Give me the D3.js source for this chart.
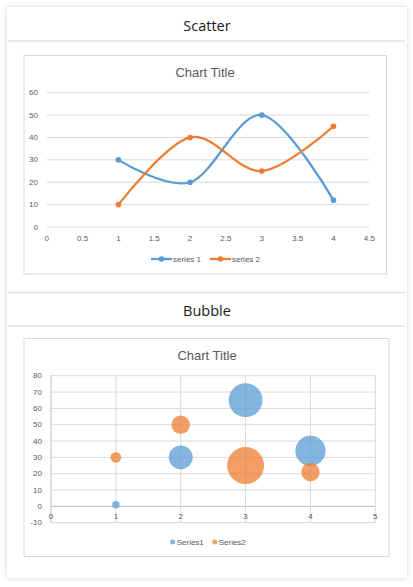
<!DOCTYPE html>
<html><head><meta charset="utf-8">
<script src="https://cdn.jsdelivr.net/npm/d3@7"></script>
<style>html,body{margin:0;padding:0;background:#fff;}svg{display:block;}</style>
</head><body>
<script>
// ---- data ----
const scatterX = [1, 2, 3, 4];
const scatterSeries1 = [30, 20, 50, 12];
const scatterSeries2 = [10, 40, 25, 45];
const scatterNames = ["series 1", "series 2"];
const scatterXTicks = [0, 0.5, 1, 1.5, 2, 2.5, 3, 3.5, 4, 4.5];
const scatterYTicks = [0, 10, 20, 30, 40, 50, 60];

const bubbleX = [1, 2, 3, 4];
const bubbleSeries1Y = [1, 30, 65, 34];
const bubbleSeries1Size = [0.5, 5, 10, 8];
const bubbleSeries2Y = [30, 50, 25, 21];
const bubbleSeries2Size = [1, 3, 12, 3];
const bubbleNames = ["Series1", "Series2"];
const bubbleXTicks = [0, 1, 2, 3, 4, 5];
const bubbleYTicks = [-10, 0, 10, 20, 30, 40, 50, 60, 70, 80];

const colors = ["#5B9BD5", "#ED7D31"];
const chartFont = "'Liberation Sans', Arial, sans-serif";
const headFont = "'Open Sans', 'Noto Sans', sans-serif";

const W = 413, H = 587;
const svg = d3.select("body").append("svg").attr("width", W).attr("height", H);
const defs = svg.append("defs");
const f = defs.append("filter").attr("id", "sh").attr("x", "-5%").attr("y", "-5%").attr("width", "110%").attr("height", "110%");
f.append("feDropShadow").attr("dx", 0).attr("dy", 0).attr("stdDeviation", 2.5).attr("flood-color", "#000").attr("flood-opacity", 0.18);

// card
svg.append("rect").attr("x", 7).attr("y", 7).attr("width", 400).attr("height", 571).attr("fill", "#fff").attr("filter", "url(#sh)");
// dividers
[41, 292.5, 326].forEach(y => svg.append("line").attr("x1", 8).attr("x2", 405).attr("y1", y).attr("y2", y).attr("stroke", "#e3e3e3").attr("stroke-width", 1.5));
svg.append("text").attr("x", 207).attr("y", 25).attr("text-anchor", "middle").attr("dominant-baseline", "central")
  .attr("font-family", headFont).attr("font-size", 14.5).attr("fill", "#1a1a1a").text("Scatter");
svg.append("text").attr("x", 207).attr("y", 310.5).attr("text-anchor", "middle").attr("dominant-baseline", "central")
  .attr("font-family", headFont).attr("font-size", 14.5).attr("fill", "#1a1a1a").text("Bubble");

// ---------- Scatter chart ----------
const g1 = svg.append("g");
g1.append("rect").attr("x", 24).attr("y", 55.5).attr("width", 362.5).attr("height", 218.5).attr("fill", "#fff").attr("stroke", "#d9d9d9");
g1.append("text").attr("x", 205).attr("y", 72).attr("text-anchor", "middle").attr("dominant-baseline", "central")
  .attr("font-family", chartFont).attr("font-size", 13).attr("fill", "#595959").text("Chart Title");

const sx = d3.scaleLinear().domain([0, 4.5]).range([46.7, 369.3]);
const sy = d3.scaleLinear().domain([0, 60]).range([227, 92.7]);

g1.append("g").selectAll("line").data(scatterYTicks).join("line")
  .attr("x1", sx(0)).attr("x2", sx(4.5)).attr("y1", d => sy(d)).attr("y2", d => sy(d))
  .attr("stroke", "#d9d9d9").attr("stroke-width", 1);

g1.append("g").selectAll("text").data(scatterYTicks).join("text")
  .attr("x", 38).attr("y", d => sy(d)).attr("text-anchor", "end").attr("dominant-baseline", "central")
  .attr("font-family", chartFont).attr("font-size", 8).attr("fill", "#595959").text(d => d);
g1.append("g").selectAll("text").data(scatterXTicks).join("text")
  .attr("x", d => sx(d)).attr("y", 238.5).attr("text-anchor", "middle").attr("dominant-baseline", "central")
  .attr("font-family", chartFont).attr("font-size", 8).attr("fill", "#595959").text(d => d);

const line = d3.line().x(d => sx(d[0])).y(d => sy(d[1])).curve(d3.curveCardinal.tension(0));
[scatterSeries1, scatterSeries2].forEach((ser, i) => {
  const pts = scatterX.map((x, j) => [x, ser[j]]);
  g1.append("path").datum(pts).attr("d", line).attr("fill", "none").attr("stroke", colors[i]).attr("stroke-width", 2.25).attr("stroke-linecap", "round");
  g1.append("g").selectAll("circle").data(pts).join("circle")
    .attr("cx", d => sx(d[0])).attr("cy", d => sy(d[1])).attr("r", 2.8).attr("fill", colors[i]);
});

// scatter legend
const legX1 = [151, 210];
scatterNames.forEach((n, i) => {
  const x0 = legX1[i];
  g1.append("line").attr("x1", x0).attr("x2", x0 + 21).attr("y1", 259).attr("y2", 259).attr("stroke", colors[i]).attr("stroke-width", 2.25);
  g1.append("circle").attr("cx", x0 + 10.5).attr("cy", 259).attr("r", 2.8).attr("fill", colors[i]);
  g1.append("text").attr("x", x0 + 22).attr("y", 259).attr("dominant-baseline", "central")
    .attr("font-family", chartFont).attr("font-size", 8).attr("fill", "#595959").text(n);
});

// ---------- Bubble chart ----------
const g2 = svg.append("g");
g2.append("rect").attr("x", 24).attr("y", 338.5).attr("width", 365).attr("height", 218).attr("fill", "#fff").attr("stroke", "#d9d9d9");
g2.append("text").attr("x", 207).attr("y", 355.5).attr("text-anchor", "middle").attr("dominant-baseline", "central")
  .attr("font-family", chartFont).attr("font-size", 13).attr("fill", "#595959").text("Chart Title");

const bx = d3.scaleLinear().domain([0, 5]).range([51, 375.3]);
const by = d3.scaleLinear().domain([-10, 80]).range([522.7, 375.7]);
const br = d3.scaleSqrt().domain([0, 12]).range([0, 18.5]);

g2.append("g").selectAll("line").data(bubbleYTicks).join("line")
  .attr("x1", bx(0)).attr("x2", bx(5)).attr("y1", d => by(d)).attr("y2", d => by(d))
  .attr("stroke", d => d === 0 ? "#bfbfbf" : "#d9d9d9").attr("stroke-width", 1);
g2.append("g").selectAll("line").data(bubbleXTicks).join("line")
  .attr("x1", d => bx(d)).attr("x2", d => bx(d)).attr("y1", by(-10)).attr("y2", by(80))
  .attr("stroke", d => d === 0 ? "#bfbfbf" : "#d9d9d9").attr("stroke-width", 1);

g2.append("g").selectAll("text").data(bubbleYTicks).join("text")
  .attr("x", 42).attr("y", d => by(d)).attr("text-anchor", "end").attr("dominant-baseline", "central")
  .attr("font-family", chartFont).attr("font-size", 8).attr("fill", "#595959").text(d => d);
g2.append("g").selectAll("text").data(bubbleXTicks).join("text")
  .attr("x", d => bx(d)).attr("y", 516.5).attr("text-anchor", "middle").attr("dominant-baseline", "central")
  .attr("font-family", chartFont).attr("font-size", 8).attr("fill", "#595959").text(d => d);

[[bubbleSeries1Y, bubbleSeries1Size], [bubbleSeries2Y, bubbleSeries2Size]].forEach(([ys, ss], i) => {
  const pts = bubbleX.map((x, j) => ({x, y: ys[j], s: ss[j]}));
  g2.append("g").selectAll("circle").data(pts).join("circle")
    .attr("cx", d => bx(d.x)).attr("cy", d => by(d.y)).attr("r", d => br(d.s))
    .attr("fill", colors[i]).attr("fill-opacity", 0.75);
});

const legX2 = [172.7, 214.7];
bubbleNames.forEach((n, i) => {
  g2.append("circle").attr("cx", legX2[i]).attr("cy", 542).attr("r", 2.5).attr("fill", colors[i]).attr("fill-opacity", 0.75);
  g2.append("text").attr("x", legX2[i] + 4).attr("y", 542).attr("dominant-baseline", "central")
    .attr("font-family", chartFont).attr("font-size", 8).attr("fill", "#595959").text(n);
});
</script>
</body></html>
